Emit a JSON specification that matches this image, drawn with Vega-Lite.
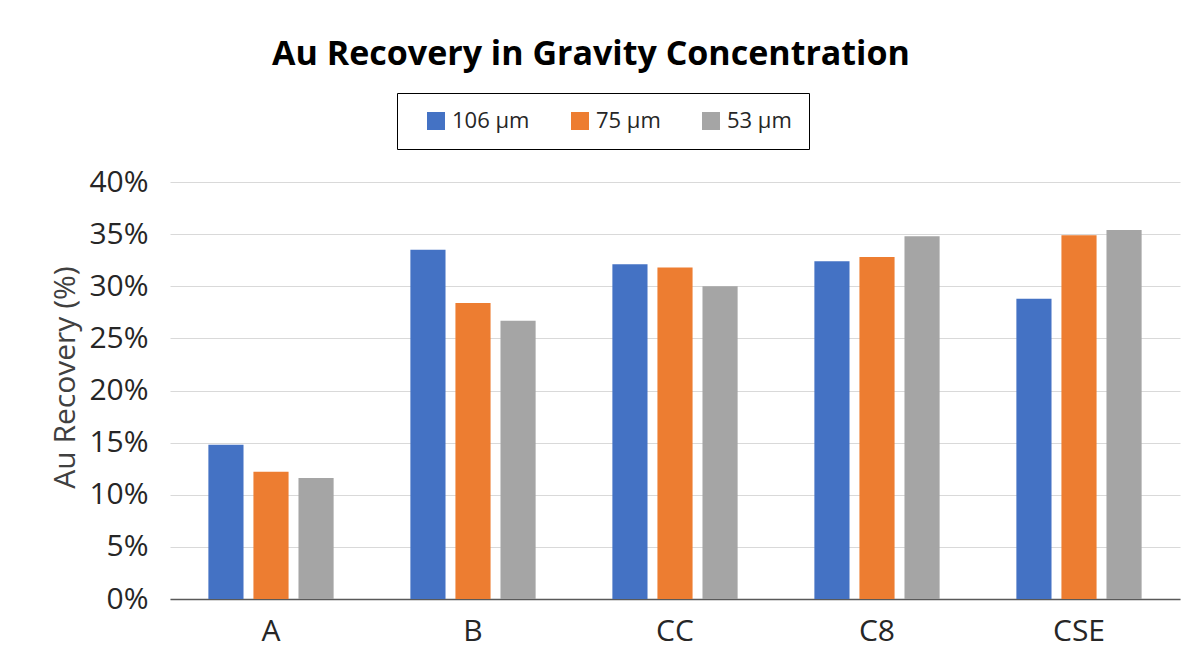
{
  "$schema": "https://vega.github.io/schema/vega-lite/v6.json",
  "width": 1010,
  "height": 417,
  "autosize": {"type": "none"},
  "padding": {"left": 170, "top": 182, "right": 23, "bottom": 71},
  "background": "white",
  "title": {
    "text": "Au Recovery in Gravity Concentration",
    "font": "Open Sans",
    "fontSize": 34,
    "fontWeight": "bold",
    "color": "#000000",
    "anchor": "middle",
    "dx": -84,
    "offset": 21
  },
  "data": {
    "values": [
      {"sample": "A", "size": "106 µm", "recovery": 0.148},
      {"sample": "A", "size": "75 µm", "recovery": 0.122},
      {"sample": "A", "size": "53 µm", "recovery": 0.116},
      {"sample": "B", "size": "106 µm", "recovery": 0.335},
      {"sample": "B", "size": "75 µm", "recovery": 0.284},
      {"sample": "B", "size": "53 µm", "recovery": 0.267},
      {"sample": "CC", "size": "106 µm", "recovery": 0.321},
      {"sample": "CC", "size": "75 µm", "recovery": 0.318},
      {"sample": "CC", "size": "53 µm", "recovery": 0.300},
      {"sample": "C8", "size": "106 µm", "recovery": 0.324},
      {"sample": "C8", "size": "75 µm", "recovery": 0.328},
      {"sample": "C8", "size": "53 µm", "recovery": 0.348},
      {"sample": "CSE", "size": "106 µm", "recovery": 0.288},
      {"sample": "CSE", "size": "75 µm", "recovery": 0.349},
      {"sample": "CSE", "size": "53 µm", "recovery": 0.354}
    ]
  },
  "mark": {"type": "bar"},
  "encoding": {
    "x": {
      "field": "sample",
      "type": "nominal",
      "sort": ["A", "B", "CC", "C8", "CSE"],
      "scale": {"paddingInner": 0.38, "paddingOuter": 0.19},
      "axis": {
        "title": null,
        "labelAngle": 0,
        "labelFont": "Open Sans",
        "labelFontSize": 30,
        "labelColor": "#262626",
        "labelPadding": 17,
        "ticks": false,
        "domainColor": "#595959",
        "domainWidth": 1.5,
        "grid": false
      }
    },
    "xOffset": {
      "field": "size",
      "type": "nominal",
      "sort": ["106 µm", "75 µm", "53 µm"],
      "scale": {"paddingInner": 0.22, "paddingOuter": 0}
    },
    "y": {
      "field": "recovery",
      "type": "quantitative",
      "scale": {"domain": [0, 0.4], "nice": false},
      "axis": {
        "title": "Au Recovery (%)",
        "titleFont": "Open Sans",
        "titleFontSize": 30,
        "titleFontWeight": "normal",
        "titleColor": "#404040",
        "titlePadding": 8,
        "titleY": 195,
        "values": [0, 0.05, 0.1, 0.15, 0.2, 0.25, 0.3, 0.35, 0.4],
        "format": ".0%",
        "labelFont": "Open Sans",
        "labelFontSize": 30,
        "labelColor": "#262626",
        "labelPadding": 22,
        "ticks": false,
        "domain": false,
        "grid": true,
        "gridColor": "#d9d9d9",
        "gridWidth": 1
      }
    },
    "color": {
      "field": "size",
      "type": "nominal",
      "scale": {
        "domain": ["106 µm", "75 µm", "53 µm"],
        "range": ["#4472C4", "#ED7D31", "#A5A5A5"]
      },
      "legend": {
        "title": null,
        "orient": "none",
        "legendX": 227,
        "legendY": -89,
        "direction": "horizontal",
        "strokeColor": "#000000",
        "padding": 17,
        "symbolOffset": 11,
        "symbolType": "square",
        "symbolSize": 324,
        "symbolStrokeWidth": 0,
        "labelFont": "Open Sans",
        "labelFontSize": 22,
        "labelColor": "#262626",
        "labelOffset": 5,
        "columnPadding": 28
      }
    }
  },
  "config": {
    "view": {"stroke": null}
  }
}
